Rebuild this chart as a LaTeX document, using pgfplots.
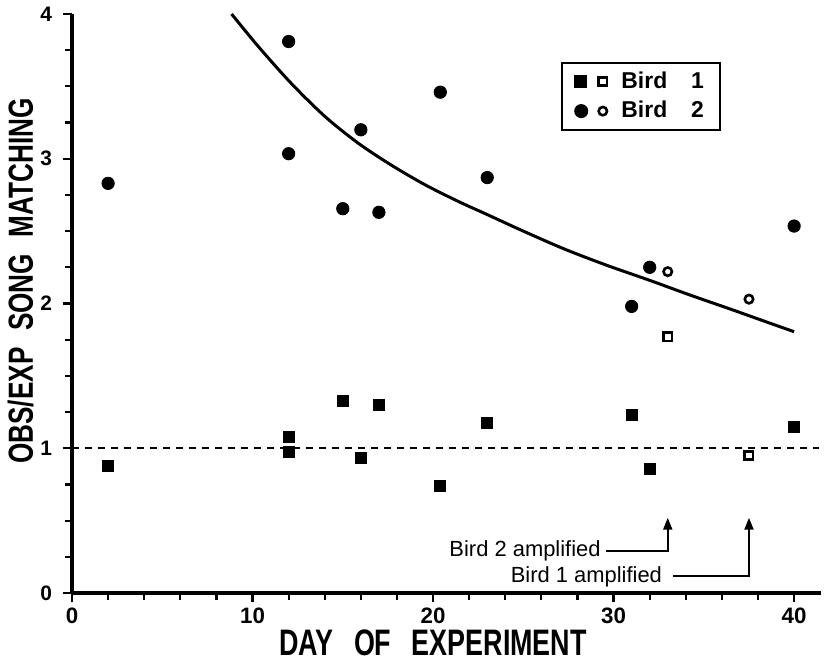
\documentclass[border=0pt]{standalone}
\usepackage{fontspec}
\setmainfont{Liberation Sans}
\usepackage{graphicx}
\usepackage{pgfplots}
\pgfplotsset{compat=1.18}
\usetikzlibrary{arrows.meta}

\begin{document}
\begin{tikzpicture}
\begin{axis}[
  scale only axis, width=374.6bp, height=289.5bp,
  xmin=0, xmax=41.5, ymin=0, ymax=4,
  axis lines=left, axis line style={-, line width=1.6bp},
  tick align=outside,
  xtick={0,10,20,30,40}, minor x tick num=4,
  ytick={0,1,2,3,4}, minor y tick num=3,
  major tick length=4.5bp, minor tick length=3.5bp,
  tick style={black, line width=1.1bp},
  /pgf/number format/assume math mode=true,
  xticklabel style={font=\fontsize{11.2}{12}\selectfont\bfseries, inner sep=1bp, yshift=-2bp},
  yticklabel style={font=\fontsize{10.5}{11}\selectfont\bfseries, xshift=-2bp},
  clip=false,
  legend cell align=left,
  legend style={at={(axis cs:27.1,3.67)}, anchor=north west, draw=black, line width=1bp,
    inner xsep=6bp, inner ysep=2.5bp, row sep=1bp,
    font=\fontsize{11.5}{12}\selectfont\bfseries},
]
\coordinate (O) at (axis cs:0,0);

% reference line
\addplot[black, line width=1bp, dash pattern=on 3.5bp off 3bp, forget plot] coordinates {(0,1) (41.4,1)};

% fitted curve
\addplot[black, line width=1.5bp, smooth, forget plot] coordinates {
(8.84,4.0) (10.33,3.774) (12.15,3.52) (14.03,3.29) (15.86,3.107) (17.7,2.955)
(19.56,2.82) (21.4,2.705) (22.9,2.62) (25.0,2.50) (27.3,2.375) (29.6,2.265) (32,2.16)
(34.2,2.06) (36.5,1.96) (38.3,1.88) (40,1.805)};

% Bird 1 filled
\addplot[only marks, mark=square*, mark size=2.75bp, black, forget plot] coordinates {
(2,0.88) (12,1.08) (12,0.975) (15,1.33) (16,0.93) (17,1.30) (20.4,0.74)
(23,1.175) (31,1.23) (32,0.86) (40,1.15)};
% Bird 1 open
\addplot[only marks, mark=square, mark size=2.1bp, mark options={line width=1.3bp}, black, forget plot] coordinates {
(33,1.77) (37.5,0.95)};
% Bird 2 filled
\addplot[only marks, mark=*, mark size=3.1bp, black, forget plot] coordinates {
(2,2.83) (12,3.81) (12,3.035) (15,2.655) (16,3.20) (17,2.63) (20.4,3.46)
(23,2.87) (31,1.98) (32,2.25) (40,2.535)};
% Bird 2 open
\addplot[only marks, mark=o, mark size=2.1bp, mark options={line width=1.3bp}, black, forget plot] coordinates {
(33,2.22) (37.5,2.03)};

\addlegendimage{legend image code/.code={
  \fill[black] (0bp,-2.75bp) rectangle (5.5bp,2.75bp);
  \draw[line width=1.3bp] (11.6bp,-2.1bp) rectangle (15.8bp,2.1bp);
  \path[draw=none, fill=none] (0bp,-0.1bp) rectangle (21bp,0.1bp);
}}
\addlegendentry{Bird\hspace{12bp}1}
\addlegendimage{legend image code/.code={
  \fill[black] (2.9bp,0) circle (3bp);
  \draw[line width=1.3bp] (13.7bp,0) circle (2.1bp);
  \path[draw=none, fill=none] (0bp,-0.1bp) rectangle (21bp,0.1bp);
}}
\addlegendentry{Bird\hspace{12bp}2}

% annotations
\draw[black, line width=1bp, -{Triangle[length=6bp, width=4.5bp]}]
  (axis cs:29.6,0.29) -| (axis cs:33,0.52);
\draw[black, line width=1bp, -{Triangle[length=6bp, width=4.5bp]}]
  (axis cs:33.3,0.117) -| (axis cs:37.5,0.52);
\node[anchor=base east, inner sep=0pt, font=\fontsize{11}{12}\selectfont] at (axis cs:29.3,0.25) {Bird 2 amplified};
\node[anchor=base east, inner sep=0pt, font=\fontsize{11}{12}\selectfont] at (axis cs:32.7,0.076) {Bird 1 amplified};

% axis labels
\node[anchor=center, inner sep=0pt, yshift=-25bp] at (axis cs:20,0)
  {\scalebox{0.73}[1]{\fontsize{18.5}{19}\selectfont\bfseries DAY\hspace{14bp}OF\hspace{14bp}EXPERIMENT}};
\node[anchor=center, inner sep=0pt, xshift=-25.75bp, rotate=90] at (axis cs:0,2.155)
  {\scalebox{0.75}[1]{\fontsize{17.5}{18}\selectfont\bfseries OBS/EXP\hspace{11bp}SONG\hspace{11bp}MATCHING}};
\end{axis}
\pgfresetboundingbox
\path (O) ++(-36bp,-35bp) rectangle ++(414bp,331.5bp);
\end{tikzpicture}
\end{document}
